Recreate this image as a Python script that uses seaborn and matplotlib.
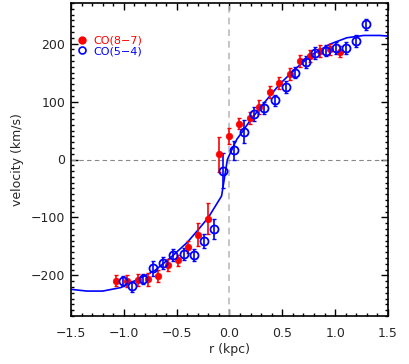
import numpy as np
import pandas as pd
import matplotlib
matplotlib.use("Agg")
import matplotlib.pyplot as plt
import seaborn as sns
from matplotlib.lines import Line2D
from matplotlib.ticker import MultipleLocator

# ---- data ----
red_r = [-1.07, -0.97, -0.87, -0.77, -0.68, -0.58, -0.49, -0.39, -0.30, -0.20, -0.10,
         0.00, 0.09, 0.19, 0.28, 0.38, 0.47, 0.57, 0.67, 0.76, 0.86, 0.95, 1.05]
red_v = [-209, -210, -208, -207, -201, -182, -174, -151, -130, -102, 9,
         41, 62, 72, 91, 116, 132, 147, 170, 179, 187, 190, 186]
red_e = [9, 10, 11, 11, 11, 10, 10, 10, 20, 27, 30,
         14, 10, 10, 12, 10, 10, 10, 10, 10, 10, 10, 10]

blue_r = [-1.01, -0.92, -0.82, -0.72, -0.63, -0.53, -0.43, -0.34, -0.24, -0.15, -0.06,
          0.04, 0.14, 0.235, 0.33, 0.43, 0.53, 0.62, 0.72, 0.81, 0.91, 1.01, 1.10, 1.20, 1.29]
blue_v = [-210, -219, -206, -188, -179, -165, -163, -165, -141, -120, -19,
          16, 48, 79, 89, 102, 125, 150, 168, 184, 188, 192, 192, 204, 233]
blue_e = [9, 10, 9, 13, 10, 10, 10, 10, 12, 17, 30,
          16, 20, 12, 11, 10, 10, 10, 10, 10, 10, 10, 10, 10, 10]

model_r = [-1.5, -1.35, -1.2, -1.03, -0.87, -0.71, -0.55, -0.40, -0.30, -0.20, -0.075,
           -0.02, 0.03, 0.07, 0.13, 0.19, 0.32, 0.48, 0.64, 0.79, 0.95, 1.11, 1.27, 1.42, 1.5]
model_v = [-224, -227, -227, -221, -207, -192, -168, -143, -122, -100, -63,
           0, 20, 35, 50, 66, 96, 131, 159, 182, 199, 210, 214, 214, 213]

labels = ["CO(8\u22127)", "CO(5\u22124)"]
xticks = [-1.5, -1.0, -0.5, 0.0, 0.5, 1.0, 1.5]
yticks = [-200, -100, 0, 100, 200]

sns.set_style("ticks")
plt.rcParams['font.family'] = ['DejaVu Sans']

fig = plt.figure(figsize=(4.09, 3.64), dpi=100)
ax = fig.add_axes([71/409, 48/364, 317/409, 313/364])

RED = "#ff0000"
BLUE = "#0000ff"

ax.axvline(0, color="#bbbbbb", ls=(0, (4, 3)), lw=1.2, zorder=1)
ax.axhline(0, color="#888888", ls=(0, (4, 3)), lw=0.8, zorder=1)

df_model = pd.DataFrame({"r": model_r, "v": model_v})
sns.lineplot(data=df_model, x="r", y="v", sort=False, color=BLUE, lw=1.2, ax=ax, zorder=2)

ax.errorbar(red_r, red_v, yerr=red_e, fmt="none", ecolor=RED, elinewidth=1.2,
            capsize=1.2, capthick=1.0, zorder=3)
sns.scatterplot(x=red_r, y=red_v, color=RED, s=22, edgecolor=RED, linewidth=0.5,
                ax=ax, zorder=4)

ax.errorbar(blue_r, blue_v, yerr=blue_e, fmt="none", ecolor=BLUE, elinewidth=1.2,
            capsize=1.2, capthick=1.0, zorder=3)
ax.plot(blue_r, blue_v, ls="none", marker="o", ms=5.8, mfc="none", mec=BLUE, mew=1.3, zorder=4)

ax.set_xlim(-1.5, 1.5)
ax.set_ylim(-270, 270)
ax.set_xticks(xticks)
ax.set_xticklabels(["\u22121.5", "\u22121.0", "\u22120.5", "0.0", "0.5", "1.0", "1.5"])
ax.set_yticks(yticks)
ax.set_yticklabels(["\u2212200", "\u2212100", "0", "100", "200"])
ax.xaxis.set_minor_locator(MultipleLocator(0.1))
ax.yaxis.set_minor_locator(MultipleLocator(10))
ax.tick_params(which="both", direction="in", top=True, right=True, color="black", width=1.0)
ax.tick_params(which="major", length=5)
ax.tick_params(which="minor", length=2.5)
ax.tick_params(axis="x", which="major", pad=8, labelsize=9)
ax.tick_params(axis="y", which="major", pad=4, labelsize=9)
for s in ax.spines.values():
    s.set_linewidth(1.2)
    s.set_color("black")

ax.set_xlabel("r (kpc)", fontsize=9, labelpad=2)
ax.set_ylabel("velocity (km/s)", fontsize=9, labelpad=5)

handles = [
    Line2D([], [], ls="none", marker="o", ms=5, mfc=RED, mec=RED),
    Line2D([], [], ls="none", marker="o", ms=5, mfc="none", mec=BLUE, mew=1.2),
]
leg = ax.legend(handles, labels, loc="upper left", bbox_to_anchor=(0.0, 0.91),
                frameon=False, fontsize=8, handlelength=1.2, handletextpad=0.4,
                labelspacing=0.05, borderaxespad=0.0)
for t, c in zip(leg.get_texts(), [RED, BLUE]):
    t.set_color(c)

fig.savefig("out.png", dpi=100)
